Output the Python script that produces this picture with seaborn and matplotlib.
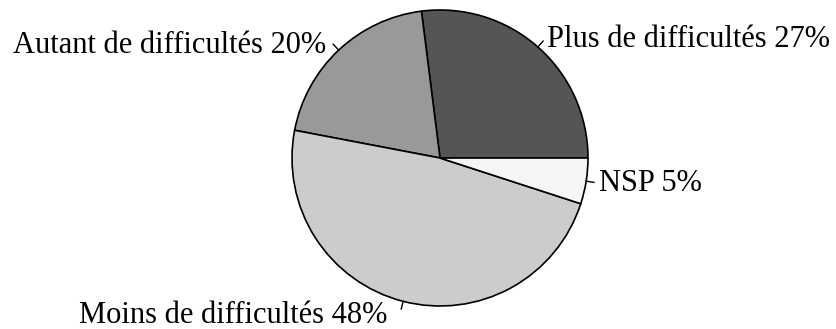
import numpy as np
import matplotlib
matplotlib.use("Agg")
import matplotlib.pyplot as plt
import seaborn as sns

categories = ["Plus de difficultés", "Autant de difficultés", "Moins de difficultés", "NSP"]
values = [27, 20, 48, 5]
colors = ["#555555", "#999999", "#cccccc", "#f5f5f5"]
# small nudges (in points) for each label away from its default spot
label_nudge = [(1, -1), (-3, -3), (-9, -2), (1, 0)]

sns.set_theme(style="white")
plt.rcParams["font.family"] = ["Liberation Serif", "DejaVu Serif"]

fig = plt.figure(figsize=(8.37, 3.29), dpi=100)
W, H = 837, 329
cx, cy, r = 440, 158, 148
ax = fig.add_axes([(cx - r) / W, (H - cy - r) / H, 2 * r / W, 2 * r / H])

wedges, _ = ax.pie(values, colors=colors, startangle=0, counterclock=True,
                   wedgeprops=dict(edgecolor="black", linewidth=1.2),
                   radius=1.0)
ax.set_xlim(-1, 1)
ax.set_ylim(-1, 1)
ax.set_aspect("equal")
ax.axis("off")

for w, name, v, nudge in zip(wedges, categories, values, label_nudge):
    mid = np.deg2rad((w.theta1 + w.theta2) / 2)
    c, s = np.cos(mid), np.sin(mid)
    ax.plot([c, 1.055 * c], [s, 1.055 * s], color="black", lw=1.0, clip_on=False)
    ha = "left" if c > 0 else "right"
    ax.annotate(f"{name} {v}%", xy=(1.08 * c, 1.08 * s), xytext=nudge,
                textcoords="offset points", ha=ha, va="center",
                fontsize=22, color="black", annotation_clip=False)

fig.savefig("out.png", dpi=100, facecolor="white")
